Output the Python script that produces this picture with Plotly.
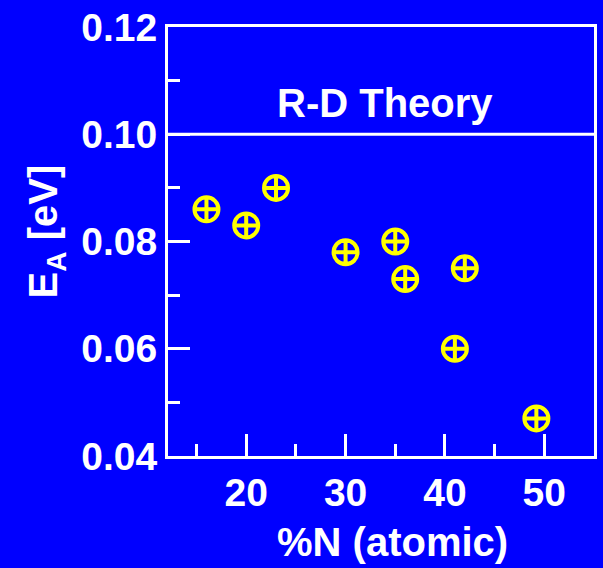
import plotly.graph_objects as go

# Activation energy vs. nitrogen content
n_percent = [16, 20, 23, 30, 35, 36, 42, 41, 49.2]
ea_ev = [0.086, 0.083, 0.090, 0.078, 0.080, 0.073, 0.075, 0.060, 0.047]

# Reaction-diffusion theory prediction
rd_theory_ev = 0.10
rd_label = "R-D Theory"

x_range = [12.13, 55.0]
y_range = [0.04, 0.12]
x_ticks = [20, 30, 40, 50]
y_ticks = [0.04, 0.06, 0.08, 0.10, 0.12]
y_tick_text = ["0.04", "0.06", "0.08", "0.10", "0.12"]

BG = "#0000ff"
FONT = "Liberation Sans, Arial, Helvetica, sans-serif"

fig = go.Figure()

fig.add_trace(go.Scatter(
    x=n_percent, y=ea_ev, mode="markers",
    marker=dict(symbol="circle-cross-open", size=24, color="#ffff00",
                line=dict(width=4, color="#ffff00")),
    showlegend=False, cliponaxis=False,
))

fig.add_shape(type="line", xref="paper", x0=0, x1=1, yref="y",
              y0=rd_theory_ev, y1=rd_theory_ev,
              line=dict(color="white", width=3))

axis_common = dict(
    showgrid=False, zeroline=False, showline=True, linecolor="white",
    linewidth=3, mirror=True, ticks="inside", tickcolor="white",
    tickwidth=3, ticklen=22,
    tickfont=dict(family=FONT, size=39, color="white", weight="bold"),
)

fig.update_xaxes(range=x_range, tickvals=x_ticks,
                 minor=dict(dtick=5, tick0=0, ticks="inside", ticklen=12,
                            tickwidth=3, tickcolor="white", showgrid=False),
                 **axis_common)
fig.update_yaxes(range=y_range, tickvals=y_ticks, ticktext=y_tick_text,
                 minor=dict(dtick=0.01, tick0=0, ticks="inside", ticklen=12,
                            tickwidth=3, tickcolor="white", showgrid=False),
                 **axis_common)

fig.add_annotation(text=rd_label, xref="paper", x=0.51, yref="y", y=0.1059,
                   showarrow=False, xanchor="center", yanchor="middle",
                   font=dict(family=FONT, size=40, color="white", weight="bold"))

fig.add_annotation(text="%N (atomic)", xref="paper", x=0.527, yref="paper", y=-0.2,
                   showarrow=False, xanchor="center", yanchor="middle",
                   font=dict(family=FONT, size=40, color="white", weight="bold"))

fig.add_annotation(text="E<sub>A</sub> [eV]", xref="paper", x=(45 - 168) / 429,
                   yref="paper", y=(456 - 231) / 430, textangle=-90,
                   showarrow=False, xanchor="center", yanchor="middle",
                   font=dict(family=FONT, size=40, color="white", weight="bold"))

fig.update_layout(
    width=603, height=568,
    margin=dict(l=168, r=6, t=26, b=112),
    paper_bgcolor=BG, plot_bgcolor=BG,
)

fig.write_html("out.html")
